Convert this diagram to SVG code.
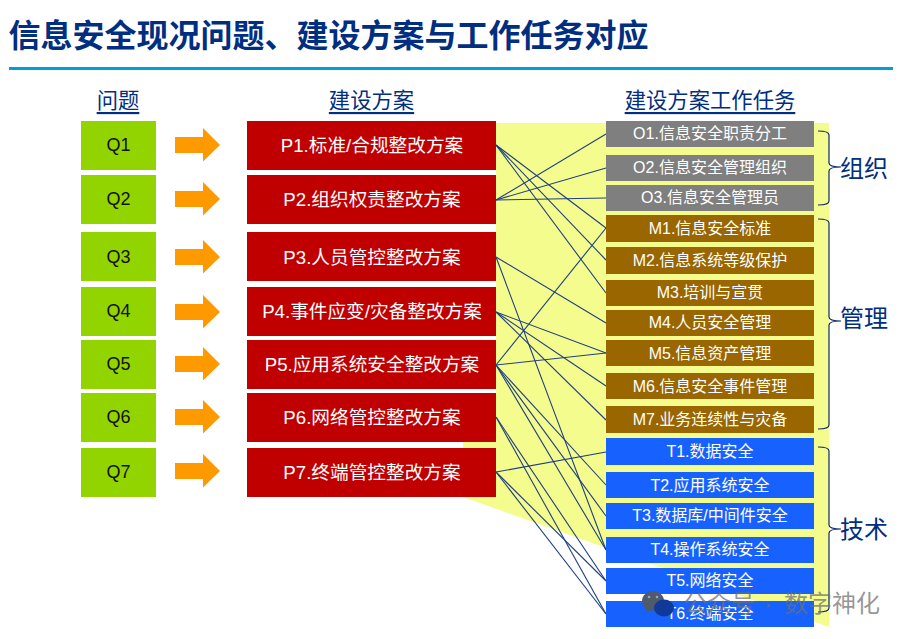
<svg xmlns="http://www.w3.org/2000/svg" width="909" height="639" viewBox="0 0 909 639">
<style>
text{font-family:"Liberation Sans","Noto Sans CJK SC",sans-serif;text-anchor:middle;dominant-baseline:central}
.title{font-size:32px;font-weight:700;fill:#002e80;text-anchor:start}
.hd{font-size:21.33px;fill:#002e80;text-decoration:underline}
.q rect{fill:#92d400}.q text{font-size:18px;fill:#111}
.p rect{fill:#c00000}.p text{font-size:18.67px;fill:#fff}
.r text{font-size:16px;fill:#fff}
.o rect{fill:#7f7f7f}.m rect{fill:#996600}.t rect{fill:#1762ff}
.ar{fill:#ff9900}
.cn line{stroke:#1f3f80;stroke-width:1.1}
.br path{fill:none;stroke:#0c2a6e;stroke-width:1.2}
.lb{font-size:24px;fill:#002e80}
.wm{font-size:24px;fill:#6e6e6e;fill-opacity:.72}
</style>
<rect width="909" height="639" fill="#fff"/>
<polygon id="band" points="496,123 829,123 829,627 463,497 463,440 496,440" fill="#f4fc8e"/>
<text class="title" x="8.500" y="36">信息安全现况问题、建设方案与工作任务对应</text>
<rect id="rule" x="9" y="67" width="884" height="3" fill="#009fd9"/>
<text class="hd" x="118" y="101">问题</text>
<text class="hd" x="371.500" y="101">建设方案</text>
<text class="hd" x="710" y="101">建设方案工作任务</text>
<g id="connectors" class="cn">
<line x1="496" y1="145" x2="606" y2="228"/><line x1="496" y1="145" x2="606" y2="260"/><line x1="496" y1="145" x2="606" y2="293"/>
<line x1="496" y1="200" x2="606" y2="134"/><line x1="496" y1="200" x2="606" y2="168"/><line x1="496" y1="200" x2="606" y2="198"/>
<line x1="496" y1="257" x2="606" y2="323"/><line x1="496" y1="257" x2="606" y2="550"/>
<line x1="496" y1="312" x2="606" y2="353"/><line x1="496" y1="312" x2="606" y2="386"/><line x1="496" y1="312" x2="606" y2="420"/>
<line x1="496" y1="365" x2="606" y2="228"/><line x1="496" y1="365" x2="606" y2="353"/><line x1="496" y1="365" x2="606" y2="485"/><line x1="496" y1="365" x2="606" y2="516"/><line x1="496" y1="365" x2="606" y2="550"/>
<line x1="496" y1="417" x2="606" y2="581"/><line x1="496" y1="417" x2="606" y2="614"/>
<line x1="496" y1="472" x2="606" y2="452"/><line x1="496" y1="472" x2="606" y2="581"/><line x1="496" y1="472" x2="606" y2="614"/>
</g>
<g id="Q1" class="q"><rect x="81" y="121" width="75" height="49"/><text x="118.500" y="145">Q1</text></g>
<g id="Q2" class="q"><rect x="81" y="175" width="75" height="49"/><text x="118.500" y="199">Q2</text></g>
<g id="Q3" class="q"><rect x="81" y="232" width="75" height="49"/><text x="118.500" y="257">Q3</text></g>
<g id="Q4" class="q"><rect x="81" y="287" width="75" height="49"/><text x="118.500" y="311">Q4</text></g>
<g id="Q5" class="q"><rect x="81" y="340" width="75" height="49"/><text x="118.500" y="364">Q5</text></g>
<g id="Q6" class="q"><rect x="81" y="393" width="75" height="49"/><text x="118.500" y="417">Q6</text></g>
<g id="Q7" class="q"><rect x="81" y="448" width="75" height="49"/><text x="118.500" y="472">Q7</text></g>
<defs><polygon id="arw" class="ar" points="175,137 203,137 203,128 220,145 203,161.500 203,153 175,153"/></defs>
<g id="arrows">
<use href="#arw"/><use href="#arw" y="54"/><use href="#arw" y="112"/><use href="#arw" y="167"/><use href="#arw" y="219"/><use href="#arw" y="272"/><use href="#arw" y="326"/>
</g>
<g id="P1" class="p"><rect x="247" y="121" width="249" height="49"/><text x="372" y="145">P1.标准/合规整改方案</text></g>
<g id="P2" class="p"><rect x="247" y="175" width="249" height="49"/><text x="372" y="199">P2.组织权责整改方案</text></g>
<g id="P3" class="p"><rect x="247" y="232" width="249" height="49"/><text x="372" y="257">P3.人员管控整改方案</text></g>
<g id="P4" class="p"><rect x="247" y="287" width="249" height="49"/><text x="372" y="311">P4.事件应变/灾备整改方案</text></g>
<g id="P5" class="p"><rect x="247" y="340" width="249" height="49"/><text x="372" y="364">P5.应用系统安全整改方案</text></g>
<g id="P6" class="p"><rect x="247" y="393" width="249" height="49"/><text x="372" y="417">P6.网络管控整改方案</text></g>
<g id="P7" class="p"><rect x="247" y="448" width="249" height="49"/><text x="372" y="472">P7.终端管控整改方案</text></g>
<g id="O1" class="r o"><rect x="606" y="121" width="208" height="26"/><text x="710" y="133">O1.信息安全职责分工</text></g>
<g id="O2" class="r o"><rect x="606" y="155" width="208" height="26"/><text x="710" y="167">O2.信息安全管理组织</text></g>
<g id="O3" class="r o"><rect x="606" y="185" width="208" height="26"/><text x="710" y="197">O3.信息安全管理员</text></g>
<g id="M1" class="r m"><rect x="606" y="215" width="208" height="27"/><text x="710" y="228">M1.信息安全标准</text></g>
<g id="M2" class="r m"><rect x="606" y="247" width="208" height="27"/><text x="710" y="260">M2.信息系统等级保护</text></g>
<g id="M3" class="r m"><rect x="606" y="280" width="208" height="26"/><text x="710" y="292">M3.培训与宣贯</text></g>
<g id="M4" class="r m"><rect x="606" y="310" width="208" height="26"/><text x="710" y="322">M4.人员安全管理</text></g>
<g id="M5" class="r m"><rect x="606" y="340" width="208" height="26"/><text x="710" y="353">M5.信息资产管理</text></g>
<g id="M6" class="r m"><rect x="606" y="373" width="208" height="26"/><text x="710" y="386">M6.信息安全事件管理</text></g>
<g id="M7" class="r m"><rect x="606" y="406" width="208" height="27"/><text x="710" y="419">M7.业务连续性与灾备</text></g>
<g id="T1" class="r t"><rect x="606" y="438" width="208" height="27"/><text x="710" y="451">T1.数据安全</text></g>
<g id="T2" class="r t"><rect x="606" y="472" width="208" height="26"/><text x="710" y="485">T2.应用系统安全</text></g>
<g id="T3" class="r t"><rect x="606" y="503" width="208" height="26"/><text x="710" y="515">T3.数据库/中间件安全</text></g>
<g id="T4" class="r t"><rect x="606" y="537" width="208" height="26"/><text x="710" y="549">T4.操作系统安全</text></g>
<g id="T5" class="r t"><rect x="606" y="568" width="208" height="26"/><text x="710" y="580">T5.网络安全</text></g>
<g id="T6" class="r t"><rect x="606" y="601" width="208" height="26"/><text x="710" y="613">T6.终端安全</text></g>
<g id="brackets" class="br">
<path d="M818,131 Q829,131 829,135 V163 Q829,167 841,167 Q829,167 829,171 V201 Q829,205 818,205"/>
<path d="M818,219 Q829,219 829,223 V317 Q829,321 841,321 Q829,321 829,325 V425 Q829,429 818,429"/>
<path d="M818,447 Q829,447 829,451 V525 Q829,529 841,529 Q829,529 829,533 V608 Q829,612 818,612"/>
</g>
<text id="L1" class="lb" x="864" y="168">组织</text>
<text id="L2" class="lb" x="864" y="318">管理</text>
<text id="L3" class="lb" x="864" y="529">技术</text>
<g id="watermark">
<ellipse cx="653" cy="601" rx="11" ry="10" fill="#4f5a6e"/>
<polygon points="646,607 646,612 652,609" fill="#4f5a6e"/>
<circle cx="649" cy="597" r="1.300" fill="#9aa3b0"/><circle cx="657" cy="597" r="1.300" fill="#9aa3b0"/>
<ellipse cx="664" cy="608" rx="10" ry="8.500" fill="#0f3a9a"/>
<text class="wm" x="719" y="603">公众号</text>
<text class="wm" x="768" y="603">·</text>
<text class="wm" x="832" y="603">数字神化</text>
</g>
</svg>
